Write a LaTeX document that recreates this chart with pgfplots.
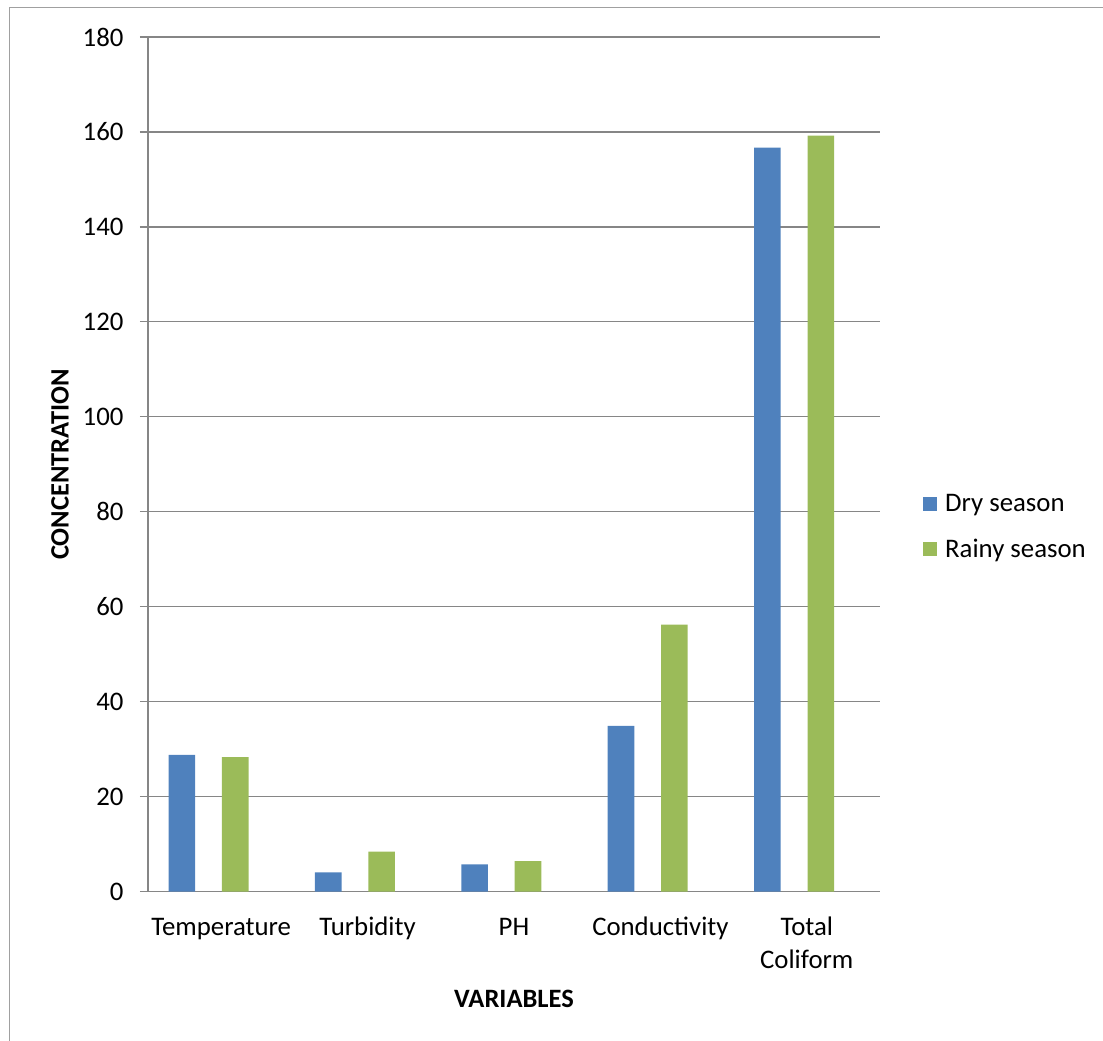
\documentclass[border=0pt]{standalone}
\usepackage{pgfplots}
\pgfplotsset{compat=1.18}
\usepackage{fontspec}
\setmainfont{Carlito}

\definecolor{dryblue}{HTML}{4F81BD}
\definecolor{rainygreen}{HTML}{9BBB59}
\definecolor{gridgray}{HTML}{868686}
\definecolor{framegray}{HTML}{A0A0A0}

\newcommand{\ticksize}{\fontsize{26.8bp}{33bp}\selectfont}
\newcommand{\labelsize}{\fontsize{26.5bp}{31bp}\selectfont\bfseries}

\begin{document}
\begin{tikzpicture}
\useasboundingbox (0,0) rectangle (1103bp,1041bp);
% outer chart frame
\draw[framegray, line width=1.3bp] (9.3bp,-5bp) -- (9.3bp,1033.7bp) -- (1110bp,1033.7bp);
\begin{axis}[
  at={(148bp,149.5bp)}, anchor=south west,
  scale only axis,
  width=732bp, height=854.5bp,
  xmin=-0.5, xmax=4.5,
  ymin=0, ymax=180,
  ytick={0,20,...,180},
  xtick={0,1,2,3,4},
  xticklabels={\strut Temperature,\strut Turbidity,\strut PH,\strut Conductivity,{\strut Total\\\strut Coliform}},
  x tick style={draw=none},
  y tick style={gridgray, line width=1.3bp},
  tick align=outside,
  major tick length=8bp,
  ymajorgrids,
  grid style={gridgray, line width=1.3bp},
  axis x line*=bottom,
  axis y line*=left,
  axis line style={gridgray, line width=1.3bp},
  /pgf/number format/assume math mode=true,
  tick label style={font=\ticksize, text=black},
  yticklabel style={xshift=-13bp},
  xticklabel style={align=center, anchor=north, yshift=-9.5bp},
  xlabel={VARIABLES},
  ylabel={CONCENTRATION},
  xlabel style={font=\labelsize, at={(0.5,0)}, anchor=center, yshift=-107bp},
  ylabel style={font=\labelsize, at={(0,0.5)}, anchor=center, yshift=88bp},
  ybar,
  bar width=26.6bp,
  legend style={at={(1.0587,0.4266)}, anchor=west, draw=none, font=\ticksize,
    row sep=24bp, inner xsep=0pt, inner ysep=0pt,
    nodes={inner sep=1bp}},
  legend cell align=left,
  legend image code/.code={\fill[#1] (0bp,-7bp) rectangle (14bp,7bp);},
]
\addplot[fill=dryblue, draw=none, bar shift=-39.4bp] coordinates {
  (0,28.8) (1,4.05) (2,5.7) (3,34.9) (4,156.7)
};
\addlegendentry{\hspace{7bp}Dry season}
\addplot[fill=rainygreen, draw=none, bar shift=14bp] coordinates {
  (0,28.3) (1,8.4) (2,6.4) (3,56.2) (4,159.2)
};
\addlegendentry{\hspace{7bp}Rainy season}
\end{axis}
\end{tikzpicture}
\end{document}
